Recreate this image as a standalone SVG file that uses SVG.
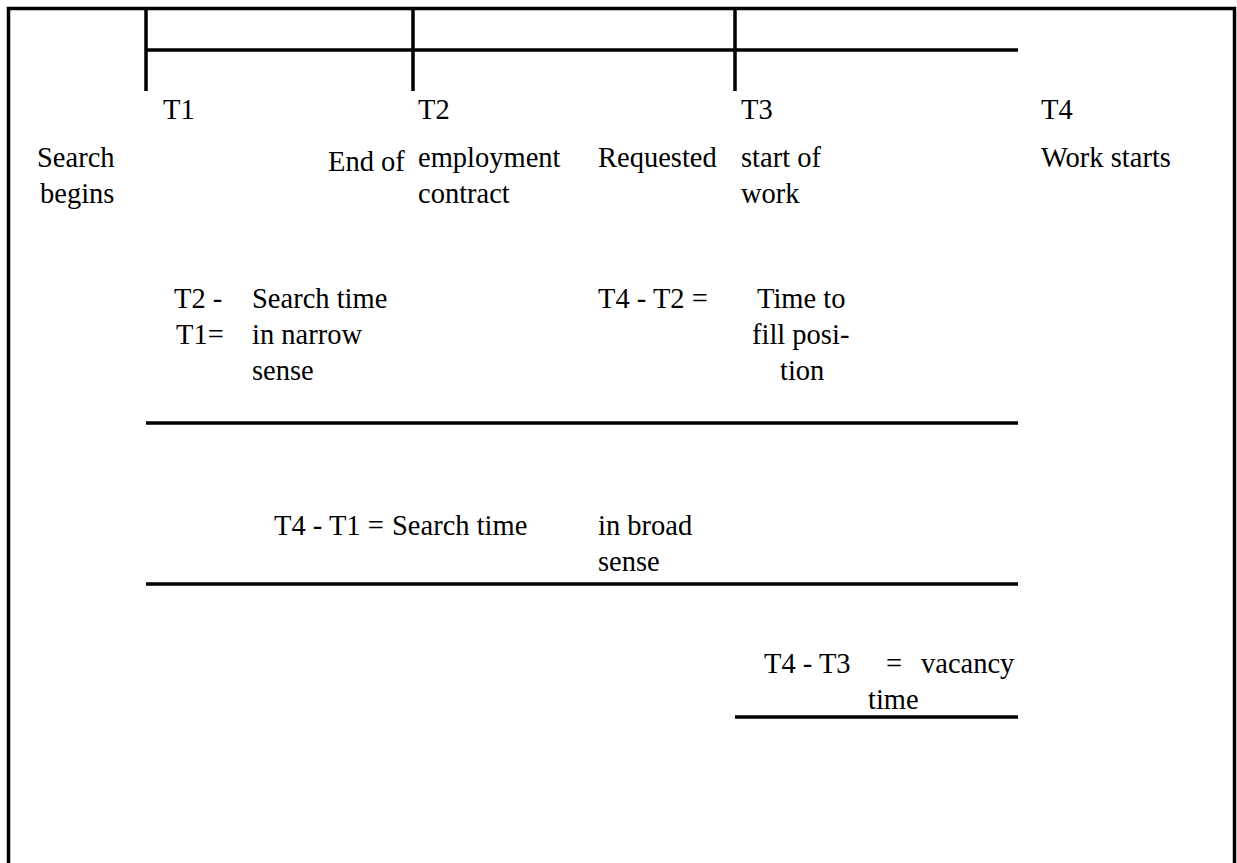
<svg xmlns="http://www.w3.org/2000/svg" width="1237" height="863" viewBox="0 0 1237 863">
<style>
.t{font-family:"Liberation Serif","Times New Roman",serif;font-size:28.5px;fill:#000}
.l{stroke:#000;stroke-width:3.5;fill:none}
</style>
<rect width="1237" height="863" fill="#fff"/>
<g id="frame">
<path class="l" d="M8.5,870 V8.5 H1234.5 V870"/>
</g>
<g id="connectors">
<line class="l" x1="146" y1="8" x2="146" y2="91"/>
<line class="l" x1="413" y1="8" x2="413" y2="91"/>
<line class="l" x1="735" y1="8" x2="735" y2="91"/>
<line class="l" x1="146" y1="50" x2="1018" y2="50"/>
<line class="l" x1="146" y1="423" x2="1018" y2="423"/>
<line class="l" x1="146" y1="584" x2="1018" y2="584"/>
<line class="l" x1="735" y1="717" x2="1018" y2="717"/>
</g>
<g id="t1">
<text class="t" x="163" y="119">T1</text>
<text class="t" x="37" y="167">Search</text>
<text class="t" x="40" y="203">begins</text>
</g>
<g id="t2">
<text class="t" x="418" y="119">T2</text>
<text class="t" x="328" y="171">End of</text>
<text class="t" x="418" y="167">employment</text>
<text class="t" x="418" y="203">contract</text>
</g>
<g id="t3">
<text class="t" x="598" y="167">Requested</text>
<text class="t" x="741" y="119">T3</text>
<text class="t" x="741" y="167">start of</text>
<text class="t" x="741" y="203">work</text>
</g>
<g id="t4">
<text class="t" x="1041" y="119">T4</text>
<text class="t" x="1041" y="167">Work starts</text>
</g>
<g id="narrow">
<text class="t" x="174" y="308">T2 -</text>
<text class="t" x="252" y="308">Search time</text>
<text class="t" x="176" y="344">T1=</text>
<text class="t" x="252" y="344">in narrow</text>
<text class="t" x="252" y="380">sense</text>
</g>
<g id="fill">
<text class="t" x="598" y="308">T4 - T2 =</text>
<text class="t" x="757" y="308">Time to</text>
<text class="t" x="752" y="344">fill posi-</text>
<text class="t" x="780" y="380">tion</text>
</g>
<g id="broad">
<text class="t" x="274" y="535">T4 - T1 =</text>
<text class="t" x="392" y="535">Search time</text>
<text class="t" x="598" y="535">in broad</text>
<text class="t" x="598" y="571">sense</text>
</g>
<g id="vacancy">
<text class="t" x="764" y="673">T4 - T3</text>
<text class="t" x="886" y="673">=</text>
<text class="t" x="921" y="673">vacancy</text>
<text class="t" x="868" y="709">time</text>
</g>
</svg>
